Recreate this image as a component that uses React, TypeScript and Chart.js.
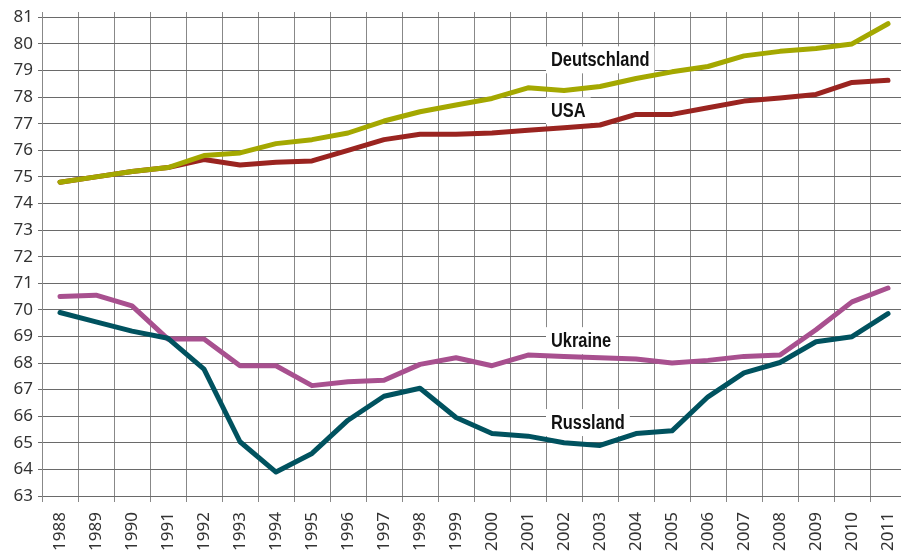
import React, { useEffect, useRef } from 'react';
import { Chart, registerables } from 'chart.js';

Chart.register(...registerables);

const years = ['1988', '1989', '1990', '1991', '1992', '1993', '1994', '1995', '1996', '1997', '1998', '1999', '2000', '2001', '2002', '2003', '2004', '2005', '2006', '2007', '2008', '2009', '2010', '2011'];

const deutschland = [74.8, 75.0, 75.2, 75.35, 75.8, 75.9, 76.25, 76.4, 76.65, 77.1, 77.45, 77.7, 77.95, 78.35, 78.25, 78.4, 78.7, 78.95, 79.15, 79.55, 79.72, 79.83, 80.0, 80.76];
const usa = [74.8, 75.0, 75.2, 75.35, 75.65, 75.45, 75.55, 75.6, 76.0, 76.4, 76.6, 76.6, 76.65, 76.75, 76.85, 76.95, 77.35, 77.35, 77.6, 77.85, 77.97, 78.1, 78.55, 78.63];
const ukraine = [70.5, 70.55, 70.15, 68.9, 68.9, 67.9, 67.9, 67.15, 67.3, 67.35, 67.95, 68.2, 67.9, 68.3, 68.25, 68.2, 68.15, 68.0, 68.1, 68.25, 68.3, 69.25, 70.3, 70.82];
const russland = [69.9, 69.55, 69.2, 68.93, 67.77, 65.04, 63.9, 64.6, 65.85, 66.75, 67.05, 65.95, 65.35, 65.25, 65.0, 64.9, 65.35, 65.45, 66.73, 67.63, 68.02, 68.8, 68.99, 69.86];

const yTickValues = [63, 64, 65, 66, 67, 68, 69, 70, 71, 72, 73, 74, 75, 76, 77, 78, 79, 80, 81];

const labelTexts = ['Deutschland', 'USA', 'Ukraine', 'Russland'];
const labelYearIndex = [14, 14, 14, 14];
const labelValues = [79.42, 77.5, 68.86, 65.78];

const seriesLabelPlugin = {
  id: 'seriesLabels',
  beforeDatasetsDraw(chart: any) {
    const { ctx, scales } = chart;
    const xs = scales.x;
    const ys = scales.y;
    const squeeze = 0.82;
    ctx.save();
    ctx.font = 'bold 20px "Liberation Sans", Arial, sans-serif';
    ctx.textBaseline = 'middle';
    ctx.textAlign = 'left';
    labelTexts.forEach((t, i) => {
      const px = xs.getPixelForValue(labelYearIndex[i]) - 13;
      const py = ys.getPixelForValue(labelValues[i]);
      const w = ctx.measureText(t).width * squeeze;
      ctx.fillStyle = '#ffffff';
      ctx.fillRect(px - 5, py - 13, w + 10, 27);
      ctx.save();
      ctx.translate(px, py + 1);
      ctx.scale(squeeze, 1);
      ctx.fillStyle = '#111111';
      ctx.fillText(t, 0, 0);
      ctx.restore();
    });
    ctx.restore();
  },
};

export default function App() {
  const ref = useRef<HTMLCanvasElement>(null);
  useEffect(() => {
    document.body.style.margin = '0';
    const line = (label: string, data: number[], color: string) => ({
      label,
      data,
      borderColor: color,
      backgroundColor: color,
      borderWidth: 5,
      pointRadius: 0,
      tension: 0,
      fill: false,
      borderCapStyle: 'round' as const,
      borderJoinStyle: 'round' as const,
    });
    const chart = new Chart(ref.current!, {
      type: 'line',
      data: {
        labels: years,
        datasets: [
          line('Deutschland', deutschland, '#a4a800'),
          line('USA', usa, '#9a2420'),
          line('Russland', russland, '#00525f'),
          line('Ukraine', ukraine, '#a8508f'),
        ],
      },
      options: {
        responsive: false,
        animation: false,
        devicePixelRatio: 1,
        layout: { padding: { top: 12, left: 0, right: 0, bottom: 0 } },
        plugins: {
          legend: { display: false },
          tooltip: { enabled: false },
          title: { display: false },
        },
        scales: {
          x: {
            type: 'category',
            offset: true,
            grid: { offset: true, color: '#888888', lineWidth: 1, tickLength: 6, drawTicks: true },
            border: { color: '#6a6a6a', width: 1 },
            ticks: {
              autoSkip: false,
              minRotation: 90,
              maxRotation: 90,
              padding: 10,
              color: '#333333',
              font: { family: '"Noto Sans", sans-serif', size: 17 },
            },
            afterFit(scale: any) {
              scale.height = 62;
              scale.paddingLeft = 0;
              scale.paddingRight = 0;
            },
          },
          y: {
            min: 63,
            max: 81.2,
            afterBuildTicks(scale: any) {
              scale.ticks = yTickValues.map((v) => ({ value: v }));
            },
            grid: { color: '#6a6a6a', lineWidth: 1, tickLength: 4 },
            border: { color: '#888888', width: 1 },
            ticks: {
              padding: 5,
              color: '#333333',
              font: { family: '"Noto Sans", sans-serif', size: 17 },
            },
            afterFit(scale: any) {
              scale.width = 42;
              scale.paddingTop = 0;
              scale.paddingBottom = 0;
            },
          },
        },
      },
      plugins: [seriesLabelPlugin],
    });
    return () => chart.destroy();
  }, []);
  return (
    <div style={{ position: 'fixed', left: 0, top: 0, width: 901, height: 558, overflow: 'hidden', background: '#ffffff' }}>
      <canvas ref={ref} width={906} height={558} style={{ display: 'block', width: 906, height: 558 }} />
    </div>
  );
}
